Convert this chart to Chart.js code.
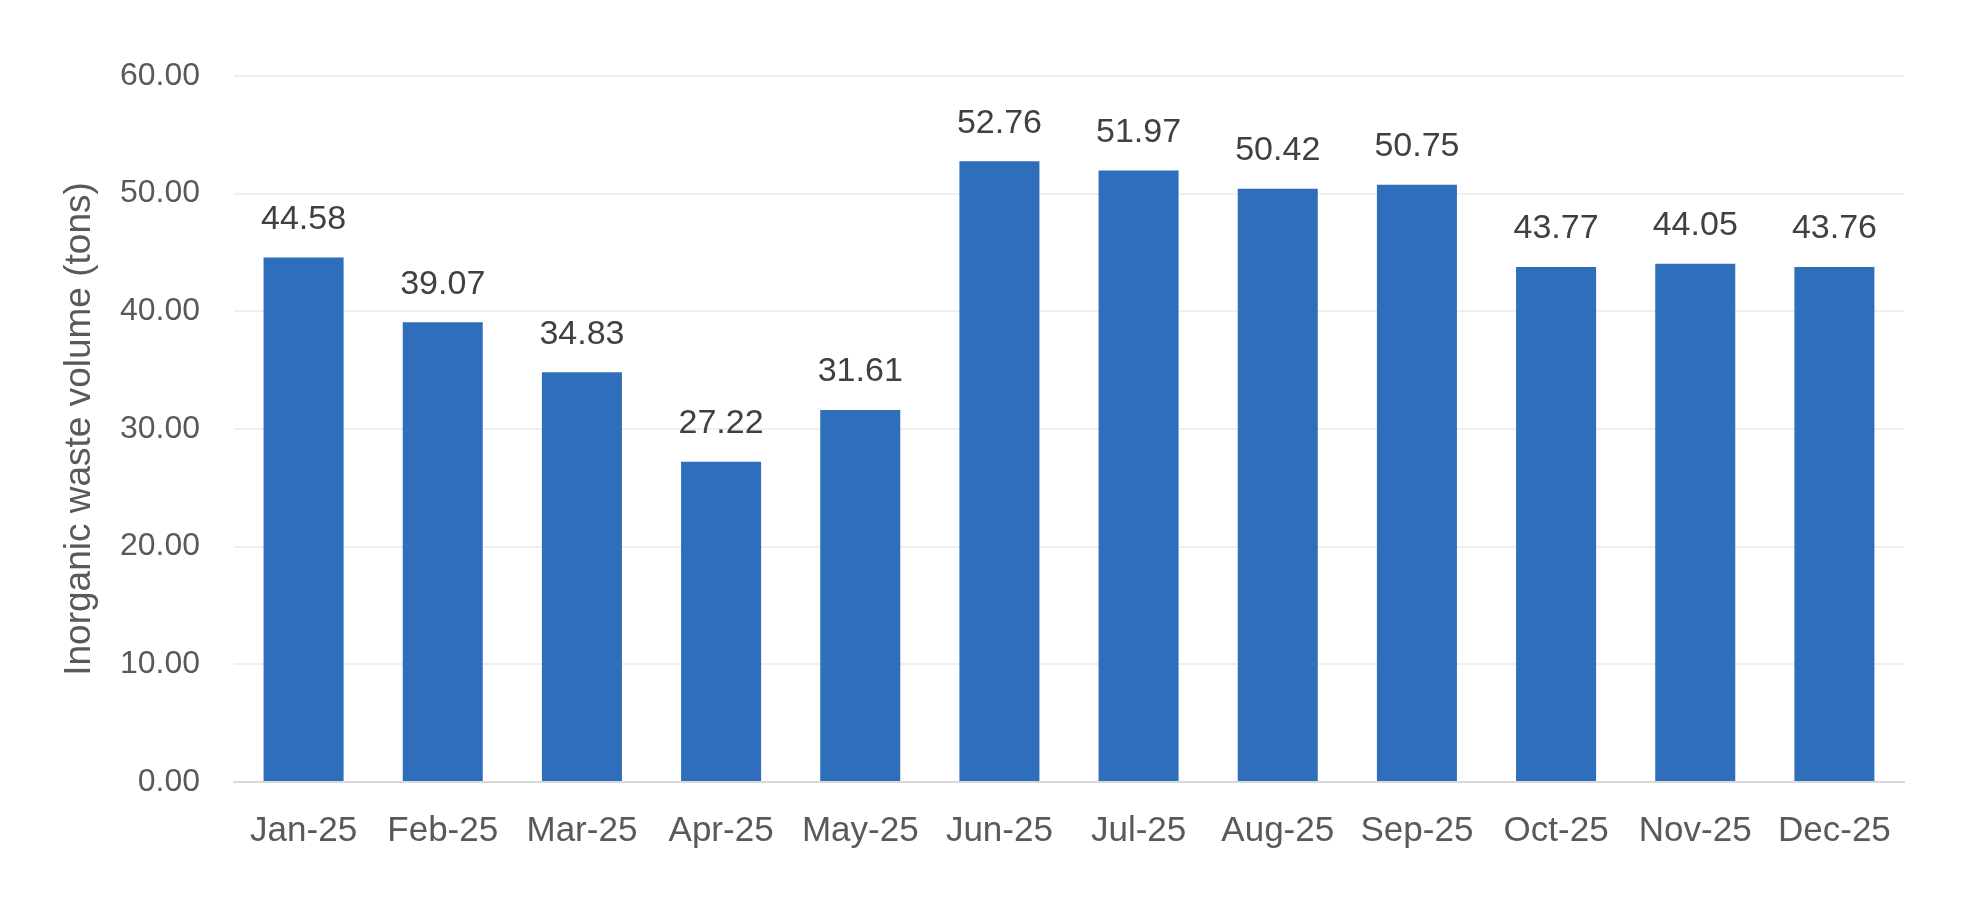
<!DOCTYPE html>
<html>
<head>
<meta charset="utf-8">
<script src="https://cdn.jsdelivr.net/npm/chart.js@4"></script>
<style>
  html, body { margin: 0; padding: 0; background: #fff; }
  #wrap { width: 1982px; height: 902px; }
</style>
</head>
<body>
<div id="wrap"><canvas id="myChart" width="1982" height="902"></canvas></div>
<script>
const months = ['Jan-25', 'Feb-25', 'Mar-25', 'Apr-25', 'May-25', 'Jun-25', 'Jul-25', 'Aug-25', 'Sep-25', 'Oct-25', 'Nov-25', 'Dec-25'];
const wasteTons = [44.58, 39.07, 34.83, 27.22, 31.61, 52.76, 51.97, 50.42, 50.75, 43.77, 44.05, 43.76];
const yTicks = [0, 10, 20, 30, 40, 50, 60];
const yTitle = 'Inorganic waste volume (tons)';

const font = '"Liberation Sans", Arial, sans-serif';

// value labels above each bar, placed from the bar elements
const barLabels = {
  id: 'barLabels',
  afterDatasetsDraw(chart) {
    const c = chart.ctx;
    const meta = chart.getDatasetMeta(0);
    c.save();
    c.font = '34px ' + font;
    c.fillStyle = '#404040';
    c.textAlign = 'center';
    c.textBaseline = 'middle';
    meta.data.forEach((bar, i) => {
      c.fillText(wasteTons[i].toFixed(2), bar.x, bar.y - 38);
    });
    c.restore();
  }
};

const ctx = document.getElementById('myChart');

new Chart(ctx, {
  type: 'bar',
  data: {
    labels: months,
    datasets: [{
      label: yTitle,
      data: wasteTons,
      backgroundColor: '#2E6EBA',
      borderWidth: 0,
      barPercentage: 0.575,
      categoryPercentage: 1
    }]
  },
  options: {
    responsive: false,
    animation: false,
    devicePixelRatio: 1,
    layout: { padding: { top: 76, right: 78, bottom: 0, left: 0 } },
    plugins: {
      legend: { display: false },
      tooltip: { enabled: false }
    },
    scales: {
      x: {
        grid: { display: false, drawTicks: false },
        border: { display: true, color: '#D9D9D9', width: 2 },
        ticks: {
          color: '#595959',
          font: { family: font, size: 35 },
          padding: 28,
          maxRotation: 0,
          autoSkip: false
        },
        afterFit(scale) { scale.height = 120; }
      },
      y: {
        min: 0,
        max: 60,
        afterBuildTicks(scale) { scale.ticks = yTicks.map(v => ({ value: v })); },
        grid: { color: '#EFEFEF', lineWidth: 2, drawTicks: false },
        border: { display: false },
        ticks: {
          color: '#595959',
          font: { family: font, size: 32 },
          padding: 34,
          callback: v => v.toFixed(2)
        },
        title: {
          display: true,
          text: yTitle,
          color: '#595959',
          font: { family: font, size: 37 },
          padding: { top: 58, bottom: 0 }
        },
        afterFit(scale) { scale.width = 234; }
      }
    }
  },
  plugins: [barLabels]
});
</script>
</body>
</html>
